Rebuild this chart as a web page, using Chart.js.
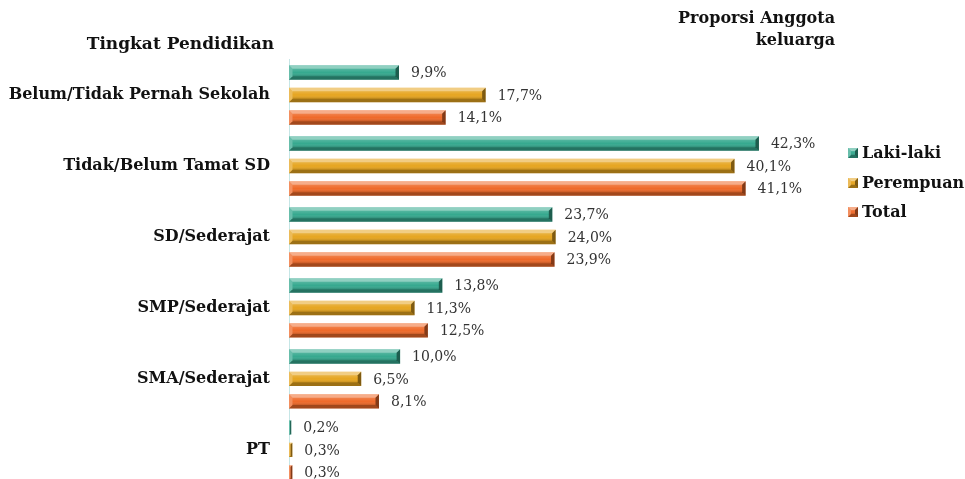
<!DOCTYPE html>
<html>
<head>
<meta charset="utf-8">
<script src="https://cdn.jsdelivr.net/npm/chart.js@4/dist/chart.umd.min.js"></script>
<style>
  html, body { margin: 0; padding: 0; background: #fff; overflow: hidden; }
  #wrap { position: relative; width: 965px; height: 514px; }
</style>
</head>
<body>
<div id="wrap"><canvas id="chart"></canvas></div>
<script>
// ---- data ----
const categories = ["Belum/Tidak Pernah Sekolah", "Tidak/Belum Tamat SD", "SD/Sederajat",
                    "SMP/Sederajat", "SMA/Sederajat", "PT"];
const seriesNames = ["Laki-laki", "Perempuan", "Total"];
const lakiLaki  = [9.9, 42.3, 23.7, 13.8, 10.0, 0.2];
const perempuan = [17.7, 40.1, 24.0, 11.3, 6.5, 0.3];
const total     = [14.1, 41.1, 23.9, 12.5, 8.1, 0.3];
const colors = ["#36a98f", "#e6a520", "#ef6a2a"];

const serif = "'DejaVu Serif', 'Liberation Serif', serif";

function bevel(ctx, left, top, right, bot, b) {
  // top light band
  ctx.beginPath();
  ctx.moveTo(left, top); ctx.lineTo(right, top); ctx.lineTo(right - b, top + b); ctx.lineTo(left + b, top + b);
  ctx.closePath(); ctx.fillStyle = 'rgba(255,255,255,0.45)'; ctx.fill();
  // bottom dark band
  ctx.beginPath();
  ctx.moveTo(left, bot); ctx.lineTo(right, bot); ctx.lineTo(right - b, bot - b); ctx.lineTo(left + b, bot - b);
  ctx.closePath(); ctx.fillStyle = 'rgba(0,0,0,0.32)'; ctx.fill();
  // left light end
  ctx.beginPath();
  ctx.moveTo(left, top); ctx.lineTo(left + b, top + b); ctx.lineTo(left + b, bot - b); ctx.lineTo(left, bot);
  ctx.closePath(); ctx.fillStyle = 'rgba(255,255,255,0.25)'; ctx.fill();
  // right dark end
  ctx.beginPath();
  ctx.moveTo(right, top); ctx.lineTo(right - b, top + b); ctx.lineTo(right - b, bot - b); ctx.lineTo(right, bot);
  ctx.closePath(); ctx.fillStyle = 'rgba(0,0,0,0.45)'; ctx.fill();
  // inner shading
  const g = ctx.createLinearGradient(0, top + b, 0, bot - b);
  g.addColorStop(0, 'rgba(255,255,255,0.15)');
  g.addColorStop(0.5, 'rgba(255,255,255,0.0)');
  g.addColorStop(1, 'rgba(0,0,0,0.18)');
  ctx.fillStyle = g;
  ctx.fillRect(left + b, top + b, Math.max(0, right - left - 2 * b), bot - top - 2 * b);
}

// bevel overlay on each bar + value labels
const bevelPlugin = {
  id: 'bevel',
  afterDatasetsDraw(chart) {
    const ctx = chart.ctx;
    chart.data.datasets.forEach((ds, di) => {
      const meta = chart.getDatasetMeta(di);
      meta.data.forEach((bar, i) => {
        const top = bar.y - bar.height / 2, bot = bar.y + bar.height / 2;
        const left = bar.base, right = bar.x;
        const b = Math.min(3.5, (right - left) / 2);
        ctx.save();
        bevel(ctx, left, top, right, bot, b);
        ctx.fillStyle = '#333';
        ctx.font = "14px " + serif;
        ctx.textAlign = 'left';
        ctx.textBaseline = 'middle';
        const v = ds.data[i].toFixed(1).replace('.', ',') + '%';
        ctx.fillText(v, right + 12, bar.y + 1);
        ctx.restore();
      });
    });
  },
  afterDraw(chart) {
    const ctx = chart.ctx;
    ctx.save();
    ctx.fillStyle = '#111';
    ctx.font = "bold 17px " + serif;
    ctx.textBaseline = 'middle';
    ctx.textAlign = 'right';
    ctx.fillText("Tingkat Pendidikan", 274, 45);
    ctx.font = "bold 16px " + serif;
    ctx.fillText("Proporsi Anggota", 835, 19);
    ctx.fillText("keluarga", 835, 41);
    // legend
    ctx.textAlign = 'left';
    const ly = [153, 183, 212];
    seriesNames.forEach((name, i) => {
      const x = 848, y = ly[i] - 5;
      ctx.fillStyle = colors[i];
      ctx.fillRect(x, y, 10, 10);
      bevel(ctx, x, y, x + 10, y + 10, 3);
      ctx.fillStyle = '#111';
      ctx.font = "bold 16px " + serif;
      ctx.fillText(name, 862, ly[i] + 1);
    });
    ctx.restore();
  }
};

new Chart(document.getElementById('chart'), {
  type: 'bar',
  data: {
    labels: categories,
    datasets: [
      { label: seriesNames[0], data: lakiLaki,  backgroundColor: colors[0] },
      { label: seriesNames[1], data: perempuan, backgroundColor: colors[1] },
      { label: seriesNames[2], data: total,     backgroundColor: colors[2] }
    ]
  },
  options: {
    indexAxis: 'y',
    responsive: true,
    maintainAspectRatio: false,
    animation: false,
    categoryPercentage: 0.95,
    barPercentage: 0.64,
    layout: { padding: { top: 59.5, bottom: 0, right: 120.5, left: 0 } },
    plugins: { legend: { display: false }, tooltip: { enabled: false } },
    scales: {
      x: { min: 0, max: 50, display: false },
      y: {
        grid: { display: false, drawTicks: false },
        border: { display: true, color: '#c6e6e6', width: 1 },
        ticks: { color: '#111', padding: 19, font: { family: serif, size: 16, weight: 'bold' } },
        afterFit(scale) { scale.width = 289; }
      }
    }
  },
  plugins: [bevelPlugin]
});
</script>
</body>
</html>
